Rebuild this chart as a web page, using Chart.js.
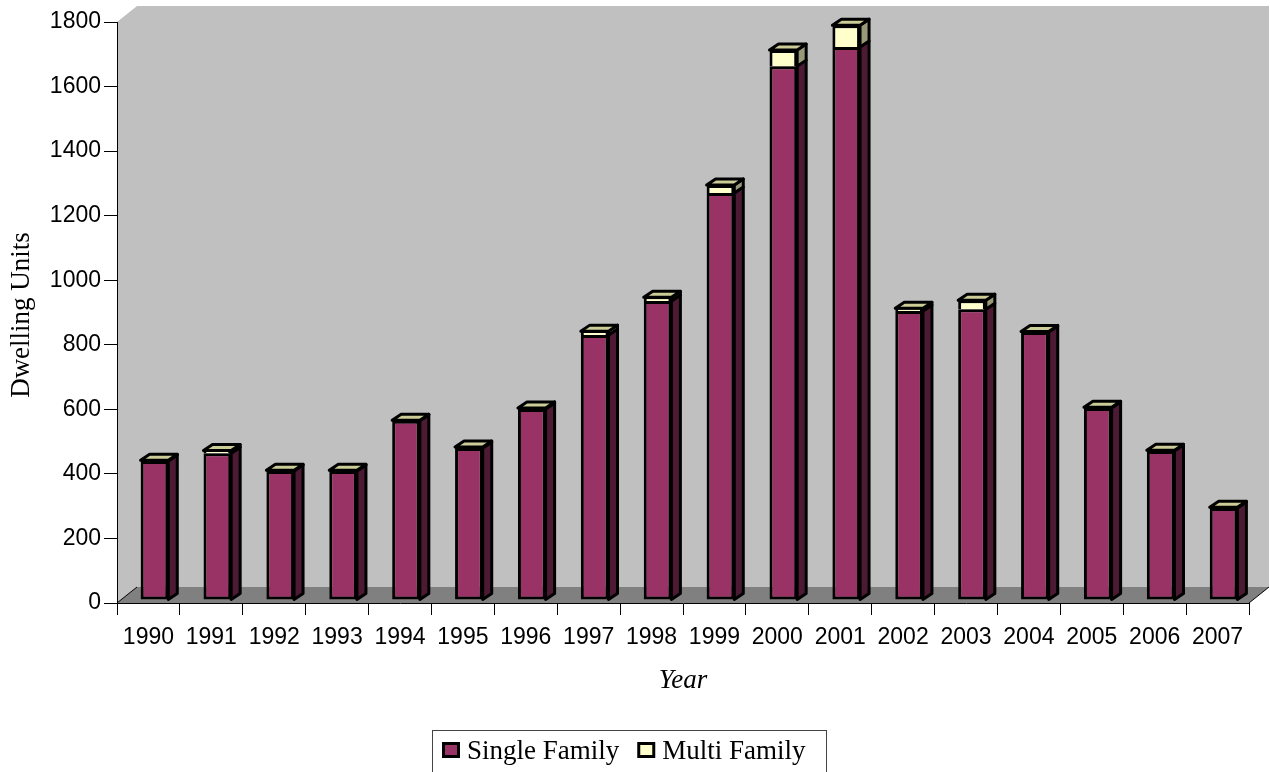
<!DOCTYPE html>
<html>
<head>
<meta charset="utf-8">
<script src="https://cdn.jsdelivr.net/npm/chart.js@4.4.1/dist/chart.umd.min.js"></script>
<style>
    html, body { margin: 0; padding: 0; background: #fff; }
    #wrap { width: 1270px; height: 772px; }
</style>
</head>
<body>
<div id="wrap"><canvas id="chart" width="1270" height="772"></canvas></div>
<script>
// --------------------------
// DATA
// --------------------------
const years = ["1990", "1991", "1992", "1993", "1994", "1995", "1996", "1997", "1998",
    "1999", "2000", "2001", "2002", "2003", "2004", "2005", "2006", "2007"];

const singleFamily = [431, 455, 400, 400, 555, 471, 592, 821, 926,
    1261, 1654, 1713, 895, 901, 830, 595, 462, 285];

const multiFamily = [2, 8, 2, 2, 2, 3, 3, 12, 12,
    25, 50, 68, 9, 28, 2, 2, 2, 2];

const yTicks = [0, 200, 400, 600, 800, 1000, 1200, 1400, 1600, 1800];

const seriesNames = ["Single Family", "Multi Family"];

// --------------------------
// LOOK
// --------------------------
const frontColors = ["#993366", "#FFFFCC"];
const sideColors = ["#4C1A33", "#99997A"];
const topColors = ["#7A2952", "#CCCC99"];
const borderWidths = [3, { top: 3, left: 3, right: 3, bottom: 0 }];

const WALL_DX = 20, WALL_DY = -16;   // depth of the back wall / floor
const BAR_DX = 9, BAR_DY = -6;       // depth of each bar
const SHIFT_X = 6, SHIFT_Y = -3;     // bars stand inside the floor

const serif = "'Liberation Serif', 'Times New Roman', serif";
const sans = "'Liberation Sans', Arial, sans-serif";

// --------------------------
// 3D PLUGIN
// --------------------------
const walls = {
    id: "walls",
    beforeDraw(chart) {
        const { ctx, chartArea: a } = chart;
        ctx.save();
        // back wall
        ctx.fillStyle = "#C0C0C0";
        ctx.beginPath();
        ctx.moveTo(a.left, a.top);
        ctx.lineTo(a.left + WALL_DX, a.top + WALL_DY);
        ctx.lineTo(a.right + WALL_DX, a.top + WALL_DY);
        ctx.lineTo(a.right + WALL_DX, a.bottom + WALL_DY);
        ctx.lineTo(a.left, a.bottom);
        ctx.closePath();
        ctx.fill();
        // floor
        ctx.fillStyle = "#808080";
        ctx.beginPath();
        ctx.moveTo(a.left, a.bottom);
        ctx.lineTo(a.right, a.bottom);
        ctx.lineTo(a.right + WALL_DX, a.bottom + WALL_DY);
        ctx.lineTo(a.left + WALL_DX, a.bottom + WALL_DY);
        ctx.closePath();
        ctx.fill();
        ctx.strokeStyle = "#000";
        ctx.lineWidth = 1;
        ctx.beginPath();
        ctx.moveTo(a.left, a.bottom);
        ctx.lineTo(a.left + WALL_DX, a.bottom + WALL_DY);
        ctx.moveTo(a.right, a.bottom);
        ctx.lineTo(a.right + WALL_DX, a.bottom + WALL_DY);
        ctx.stroke();
        ctx.restore();
    },
    beforeDatasetsDraw(chart) {
        chart.ctx.save();
        chart.ctx.translate(SHIFT_X, SHIFT_Y);
    },
    afterDatasetsDraw(chart) {
        const ctx = chart.ctx;
        const last = chart.data.datasets.length - 1;
        ctx.lineWidth = 3;
        ctx.lineJoin = "round";
        ctx.strokeStyle = "#000";

        chart.data.datasets.forEach((ds, d) => {
            const meta = chart.getDatasetMeta(d);
            meta.data.forEach(bar => {
                const right = bar.x + bar.width / 2;
                const left = bar.x - bar.width / 2;
                const top = Math.min(bar.y, bar.base);
                const base = Math.max(bar.y, bar.base);

                // side face
                ctx.fillStyle = sideColors[d];
                ctx.beginPath();
                ctx.moveTo(right, top);
                ctx.lineTo(right + BAR_DX, top + BAR_DY);
                ctx.lineTo(right + BAR_DX, base + BAR_DY);
                ctx.lineTo(right, base);
                ctx.closePath();
                ctx.fill();
                ctx.stroke();

                // top face only on the top segment
                if (d === last) {
                    ctx.fillStyle = topColors[d];
                    ctx.beginPath();
                    ctx.moveTo(left, top);
                    ctx.lineTo(left + BAR_DX, top + BAR_DY);
                    ctx.lineTo(right + BAR_DX, top + BAR_DY);
                    ctx.lineTo(right, top);
                    ctx.closePath();
                    ctx.fill();
                    ctx.stroke();
                }
            });
        });
        ctx.restore();
    },
    afterDraw(chart) {
        const { ctx, chartArea: a } = chart;
        ctx.save();
        ctx.fillStyle = "#000";

        // y title
        ctx.font = "27px " + serif;
        ctx.textAlign = "center";
        ctx.textBaseline = "middle";
        ctx.save();
        ctx.translate(22, 315);
        ctx.rotate(-Math.PI / 2);
        ctx.fillText("Dwelling Units", 0, 0);
        ctx.restore();

        // x title
        ctx.font = "italic 27px " + serif;
        ctx.fillText("Year", (a.left + a.right) / 2, 681);

        // legend
        ctx.font = "27px " + serif;
        ctx.textAlign = "left";
        ctx.textBaseline = "alphabetic";
        const boxL = 432, boxR = 826, boxT = 730;
        ctx.strokeStyle = "#444";
        ctx.lineWidth = 1;
        ctx.strokeRect(boxL + 0.5, boxT + 0.5, boxR - boxL, 60);

        let x = 442;
        chart.data.datasets.forEach((ds, d) => {
            ctx.fillStyle = "#000";
            ctx.fillRect(x, 742, 18, 16);
            ctx.fillStyle = frontColors[d];
            ctx.fillRect(x + 3, 745, 12, 10);
            ctx.fillStyle = "#000";
            ctx.fillText(ds.label, x + 25, 759);
            x += 25 + ctx.measureText(ds.label).width + 18;
        });
        ctx.restore();
    }
};

// --------------------------
// CHART
// --------------------------
const ctx = document.getElementById("chart").getContext("2d");

new Chart(ctx, {
    type: "bar",
    data: {
        labels: years,
        datasets: [singleFamily, multiFamily].map((values, d) => ({
            label: seriesNames[d],
            data: values,
            backgroundColor: frontColors[d],
            borderColor: "#000",
            borderWidth: borderWidths[d],
            borderSkipped: false,
            categoryPercentage: 1,
            barPercentage: 0.44,
            clip: false
        }))
    },
    options: {
        responsive: false,
        animation: false,
        layout: {
            padding: { top: 22, right: 21, left: 0, bottom: 0 }
        },
        plugins: {
            legend: { display: false },
            tooltip: { enabled: false }
        },
        scales: {
            x: {
                stacked: true,
                grid: {
                    offset: true,
                    drawOnChartArea: false,
                    tickLength: 12,
                    color: "#000"
                },
                border: { color: "#000", width: 1 },
                ticks: {
                    color: "#000",
                    font: { family: sans, size: 23 },
                    padding: 9,
                    maxRotation: 0,
                    autoSkip: false
                },
                afterFit(scale) {
                    scale.height = 772 - 603;
                }
            },
            y: {
                stacked: true,
                min: yTicks[0],
                max: yTicks[yTicks.length - 1],
                afterBuildTicks(scale) {
                    scale.ticks = yTicks.map(v => ({ value: v }));
                },
                grid: {
                    drawOnChartArea: false,
                    tickLength: 13,
                    color: "#000"
                },
                border: { color: "#000", width: 1 },
                ticks: {
                    color: "#000",
                    font: { family: sans, size: 23 },
                    padding: 3,
                    callback: v => String(v)
                },
                afterFit(scale) {
                    scale.width = 117;
                }
            }
        }
    },
    plugins: [walls]
});
</script>
</body>
</html>
